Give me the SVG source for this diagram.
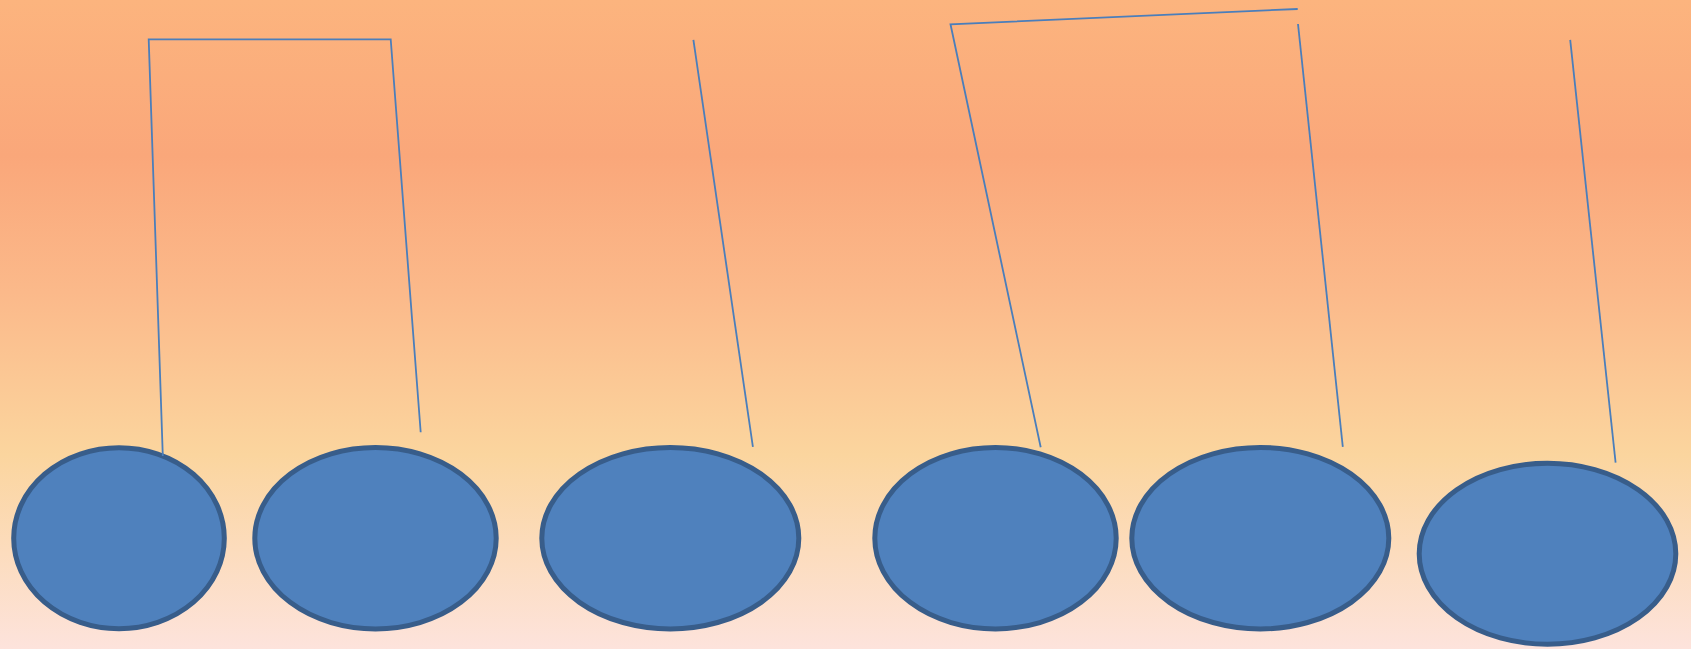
<svg xmlns="http://www.w3.org/2000/svg" width="1691" height="649" viewBox="0 0 1691 649">
  <defs>
    <linearGradient id="bg" x1="0" y1="0" x2="0" y2="1">
      <stop offset="0" stop-color="#FCB47E"/>
      <stop offset="0.24" stop-color="#FAA77A"/>
      <stop offset="0.45" stop-color="#FBB98A"/>
      <stop offset="0.70" stop-color="#FBD59E"/>
      <stop offset="1" stop-color="#FDE3DC"/>
    </linearGradient>
  </defs>
  <style>
    .node { fill: #4F81BD; stroke: #385D8A; stroke-width: 5; }
    .conn { fill: none; stroke: #4A7EBB; stroke-width: 1.8; stroke-linejoin: miter; }
  </style>
  <rect x="0" y="0" width="1691" height="649" fill="url(#bg)"/>
  <g id="nodes">
    <g id="node1"><ellipse class="node" cx="119" cy="538.2" rx="105.3" ry="90.5"/></g>
    <g id="node2"><ellipse class="node" cx="375.5" cy="538.2" rx="120.7" ry="90.7"/></g>
    <g id="node3"><ellipse class="node" cx="670.3" cy="538.2" rx="128.5" ry="90.7"/></g>
    <g id="node4"><ellipse class="node" cx="995.5" cy="538.2" rx="120.7" ry="90.7"/></g>
    <g id="node5"><ellipse class="node" cx="1260.3" cy="538.2" rx="128.5" ry="90.7"/></g>
    <g id="node6"><ellipse class="node" cx="1547.5" cy="553.7" rx="128.3" ry="90.5"/></g>
  </g>
  <g id="connectors">
    <polyline class="conn" points="162.8,456 148.7,39.3 390.7,39.3 420.7,432.3"/>
    <line class="conn" x1="693.4" y1="39.9" x2="752.9" y2="446.8"/>
    <polyline class="conn" points="1040.7,447.3 950.5,24.3 1297.7,9"/>
    <line class="conn" x1="1298" y1="24" x2="1342.8" y2="446.8"/>
    <line class="conn" x1="1570.2" y1="39.9" x2="1615.6" y2="462.7"/>
  </g>
</svg>
